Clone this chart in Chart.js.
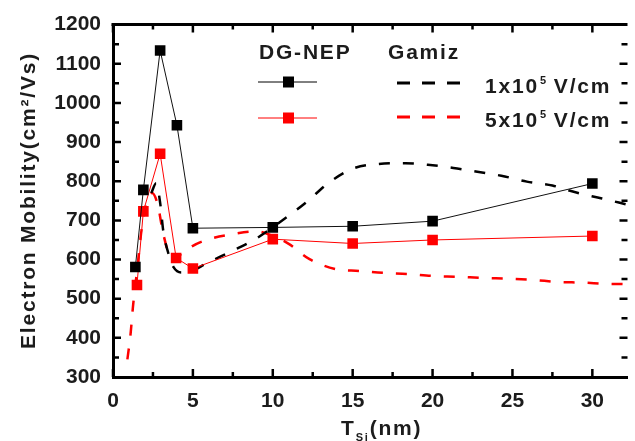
<!DOCTYPE html>
<html>
<head>
<meta charset="utf-8">
<script src="https://cdn.jsdelivr.net/npm/chart.js@4.4.0/dist/chart.umd.min.js"></script>
<style>
  body { margin: 0; background: #fff; }
  #wrap { position: relative; width: 635px; height: 441px; overflow: hidden;
          font-family: "Liberation Sans", Arial, sans-serif; font-weight: bold; color: #1c1c1c; }
  #chart { position: absolute; left: 0; top: 0; }
  .t { position: absolute; white-space: nowrap; font-size: 21px; line-height: 1; letter-spacing: 1.8px; }
  .t sup { font-size: 11px; vertical-align: 9px; margin: 0 6px 0 1px; }
  .t sub { font-size: 11px; vertical-align: -6px; }
  .ytitle { transform-origin: 0 0; transform: rotate(-90deg); }
</style>
</head>
<body>
<div id="wrap">
  <canvas id="chart" width="635" height="441"></canvas>
  <div class="t" style="left:259px;top:41px;">DG-NEP</div>
  <div class="t" style="left:388px;top:41px;">Gamiz</div>
  <div class="t" style="left:485px;top:75px;">1x10<sup>5</sup>V/cm</div>
  <div class="t" style="left:485px;top:109px;">5x10<sup>5</sup>V/cm</div>
  <div class="t" style="left:341px;top:417px;">T<sub>Si</sub>(nm)</div>
  <div class="t ytitle" style="left:17px;top:349px;">Electron Mobility(cm²/Vs)</div>
</div>
<script>
// DG-NEP simulation points
const tsiLow = [1.4, 1.9, 2.95, 4, 5, 10, 15, 20, 30];
const nepLow = [581, 778, 1134, 943, 680, 682, 685, 698, 794];
const tsiHigh = [1.5, 1.9, 2.95, 3.95, 5, 10, 15, 20, 30];
const nepHigh = [535, 723, 870, 604, 577, 652, 641, 650, 660];

// Gamiz curves
const gamizLowX = [2.4, 2.7, 2.95, 3.15, 3.45, 3.8, 4.3, 5, 5.8, 7.4, 8.9, 10.5, 12, 13.6, 15, 16.6, 18.3, 19.7, 21.3, 22.8, 24.3, 25.9, 27.5, 29, 30.6, 32.2];
const gamizLowY = [770, 795, 745, 672, 618, 580, 567, 572, 589, 621, 652, 697, 743, 799, 832, 844, 846, 842, 834, 824, 814, 799, 789, 771, 756, 740];
const gamizHighX = [0.9, 1.1, 1.25, 1.5, 1.8, 2.1, 2.45, 2.8, 3.15, 3.7, 4.2, 5, 6, 7.5, 9, 10, 11, 12.3, 13.9, 15.4, 16.9, 18.5, 20, 21.6, 23.1, 24.8, 26.3, 27.8, 29.4, 30.9, 32.2];
const gamizHighY = [345, 410, 480, 570, 680, 745, 770, 740, 665, 600, 612, 635, 652, 665, 672, 660, 640, 601, 576, 571, 566, 563, 558, 556, 553, 551, 548, 543, 541, 538, 537];

const xTicksMajor = [0, 5, 10, 15, 20, 25, 30];
const yMin = 300, yMax = 1200, xMin = 0, xMax = 32.2;

const pts = (xs, ys) => xs.map((x, i) => ({ x: x, y: ys[i] }));

// inward ticks on all four sides, top border, legend symbols
const framePlugin = {
  id: 'frame',
  afterDraw(chart) {
    const { ctx, chartArea: a, scales } = chart;
    const xs = scales.x, ys = scales.y;
    ctx.save();
    ctx.strokeStyle = '#000';
    ctx.lineWidth = 3;
    ctx.beginPath();
    ctx.moveTo(a.left - 1.5, a.top);
    ctx.lineTo(a.right, a.top);
    ctx.stroke();

    ctx.lineWidth = 2.5;
    for (let v = xMin; v <= 30; v += 2.5) {
      const px = xs.getPixelForValue(v);
      const len = v % 5 === 0 ? 8 : 5;
      ctx.beginPath();
      ctx.moveTo(px, a.bottom); ctx.lineTo(px, a.bottom - len);
      ctx.moveTo(px, a.top); ctx.lineTo(px, a.top + len);
      ctx.stroke();
    }
    for (let v = yMin + 50; v < yMax; v += 50) {
      const py = ys.getPixelForValue(v);
      const len = v % 100 === 0 ? 8 : 6;
      ctx.beginPath();
      ctx.moveTo(a.left, py); ctx.lineTo(a.left + len, py);
      ctx.moveTo(a.right, py); ctx.lineTo(a.right - len, py);
      ctx.stroke();
    }

    // legend symbols
    const sym = (x1, x2, y, color, dashed) => {
      ctx.strokeStyle = color;
      ctx.lineWidth = dashed ? 3 : 1;
      ctx.setLineDash(dashed ? [13, 12] : []);
      ctx.beginPath(); ctx.moveTo(x1, y); ctx.lineTo(x2, y); ctx.stroke();
      ctx.setLineDash([]);
      if (!dashed) {
        ctx.fillStyle = color;
        ctx.fillRect(283, y - 5.5, 11, 11);
      }
    };
    sym(258, 317, 82, '#000', false);
    sym(258, 317, 118, '#ff0000', false);
    sym(397, 460, 83, '#000', true);
    sym(397, 460, 117, '#ff0000', true);
    ctx.restore();
  }
};

const tickFont = { family: '"Liberation Sans", Arial', size: 21, weight: 'bold' };

new Chart(document.getElementById('chart'), {
  type: 'scatter',
  data: {
    datasets: [
      { label: 'DG-NEP 1e5', data: pts(tsiLow, nepLow), showLine: true, borderColor: '#111', backgroundColor: '#000',
        borderWidth: 1, pointStyle: 'rect', pointRadius: 7.5, pointBorderWidth: 0 },
      { label: 'DG-NEP 5e5', data: pts(tsiHigh, nepHigh), showLine: true, borderColor: '#ff0000', backgroundColor: '#ff0000',
        borderWidth: 1, pointStyle: 'rect', pointRadius: 7.5, pointBorderWidth: 0 },
      { label: 'Gamiz 1e5', data: pts(gamizLowX, gamizLowY), showLine: true, borderColor: '#000',
        borderWidth: 2.5, borderDash: [11, 13], pointRadius: 0, cubicInterpolationMode: 'monotone' },
      { label: 'Gamiz 5e5', data: pts(gamizHighX, gamizHighY), showLine: true, borderColor: '#ff0000',
        borderWidth: 2.5, borderDash: [11, 13], pointRadius: 0, cubicInterpolationMode: 'monotone' }
    ]
  },
  options: {
    responsive: false,
    animation: false,
    layout: { padding: { top: 21, right: 0, bottom: 0, left: 0 } },
    plugins: { legend: { display: false }, tooltip: { enabled: false } },
    scales: {
      x: {
        type: 'linear', min: xMin, max: xMax,
        afterFit: s => { s.height = 64; },
        afterBuildTicks: s => { s.ticks = xTicksMajor.map(v => ({ value: v })); },
        grid: { display: false, drawTicks: false },
        border: { display: true, color: '#000', width: 3 },
        ticks: { color: '#1c1c1c', padding: 12, font: tickFont, callback: v => String(v) }
      },
      y: {
        min: yMin, max: yMax,
        afterFit: s => { s.width = 113; },
        grid: { display: false, drawTicks: false },
        border: { display: true, color: '#000', width: 3 },
        ticks: { stepSize: 100, color: '#1c1c1c', padding: 12, font: tickFont, callback: v => String(v) }
      }
    }
  },
  plugins: [framePlugin]
});
</script>
</body>
</html>
